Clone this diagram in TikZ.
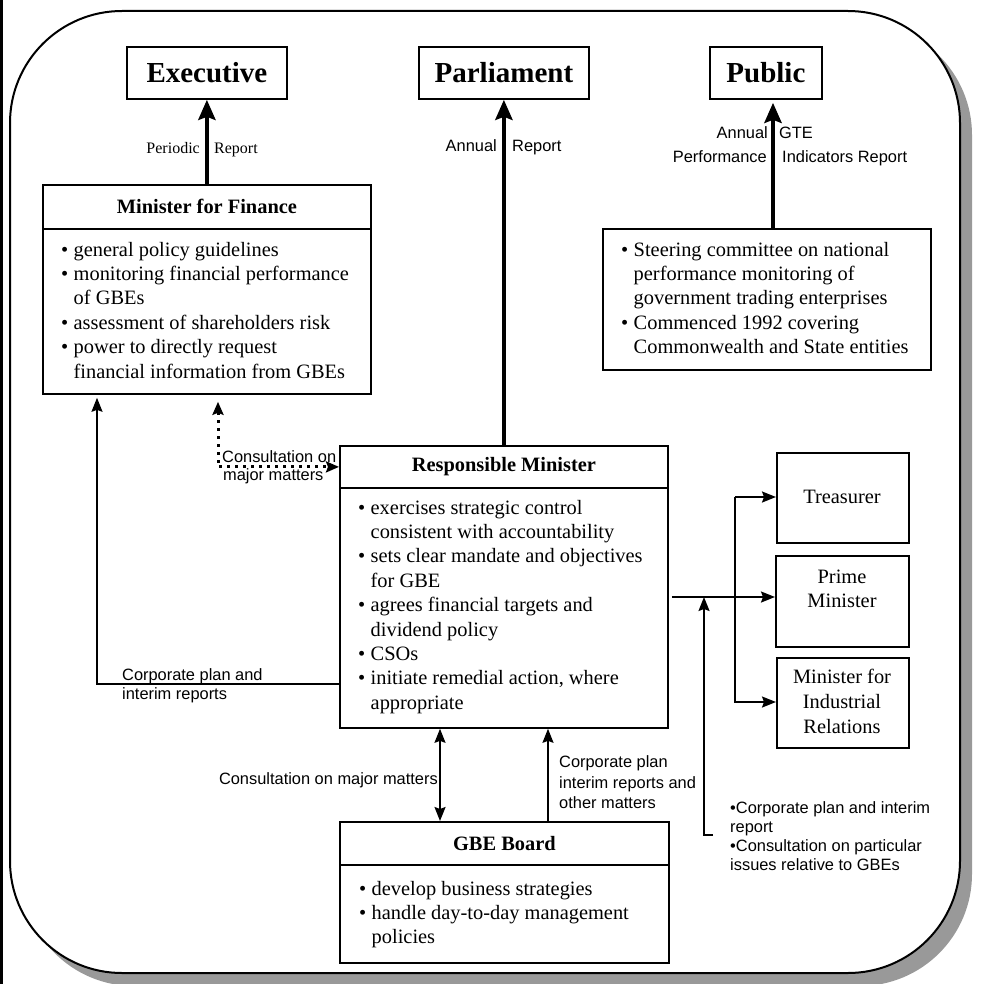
\documentclass[tikz,border=0pt]{standalone}
\usepackage{fontspec}
\setmainfont{Liberation Serif}
\newfontfamily\arialf{Liberation Sans}
\usetikzlibrary{arrows.meta}
\definecolor{shadowgray}{HTML}{999999}
\newcommand\bodyfont{\fontsize{20.4}{24.4}\selectfont}
\newcommand\lblfont{\arialf\fontsize{16.4}{19.7}\selectfont}
\newcommand\serlbl{\fontsize{16}{19}\selectfont}
\newcommand\titlefont{\fontsize{29}{34}\selectfont\bfseries}
\newcommand\headfont{\fontsize{20.4}{24.4}\selectfont\bfseries}
\newcommand\bitem{\par\hangindent=12.5pt\hangafter=1\noindent\makebox[12.5pt][l]{\textbullet}}
\begin{document}
\begin{tikzpicture}[x=1pt,y=1pt,
 box/.style={draw, line width=1.8pt, inner sep=0pt, anchor=north west},
 thickarr/.style={line width=4.5pt, -{Stealth[length=20pt,width=17pt,inset=3pt]}},
 thinarr/.style={line width=1.8pt, -{Stealth[length=14pt,width=11pt,inset=2pt]}},
 dblarr/.style={line width=1.8pt, {Stealth[length=14pt,width=11pt,inset=2pt]}-{Stealth[length=14pt,width=11pt,inset=2pt]}},
 dotarr/.style={line width=3pt, dash pattern=on 3pt off 5pt, {Stealth[length=13pt,width=11pt,inset=2pt]}-{Stealth[length=13pt,width=11pt,inset=2pt]}},
 lbl/.style={inner sep=0pt, font=\lblfont},
 slbl/.style={inner sep=0pt, font=\serlbl},
 body/.style={inner sep=0pt, anchor=base west},
 btext/.style={inner sep=0pt, anchor=base, font=\bodyfont}
]
\useasboundingbox (0,0) rectangle (987,-984);
% frame with shadow
\fill[shadowgray, rounded corners=112pt] (22,-23) rectangle (972,-986);
\draw[line width=2pt, fill=white, rounded corners=112pt] (10,-11) rectangle (960,-973);
\fill[black] (0,0) rectangle (2.7,-984);

% top boxes
\node[box, minimum width=160, minimum height=52] (exec) at (126,-46) {\titlefont Executive};
\node[box, minimum width=170, minimum height=52] (parl) at (418,-46) {\titlefont Parliament};
\node[box, minimum width=112, minimum height=52] (pub) at (709,-46) {\titlefont Public};

% Minister for Finance
\node[box, minimum width=328, minimum height=44] (mff) at (42,-184) {\headfont Minister for Finance};
\node[box, minimum width=328, minimum height=165] (mffbody) at (42,-228) {};
\node[body] (mfftext) at (61,-256) {\parbox[t]{310pt}{\bodyfont\raggedright
\bitem general policy guidelines
\bitem monitoring financial performance\newline of GBEs
\bitem assessment of shareholders risk
\bitem power to directly request\newline financial information from GBEs\par}};

% Steering committee
\node[box, minimum width=328, minimum height=141] (comm) at (602,-228) {};
\node[body] (commtext) at (621,-256) {\parbox[t]{310pt}{\bodyfont\raggedright
\bitem Steering committee on national\newline performance monitoring of\newline government trading enterprises
\bitem Commenced 1992 covering\newline Commonwealth and State entities\par}};

% Responsible Minister
\node[box, minimum width=328, minimum height=42] (resp) at (339,-445) {\headfont Responsible Minister};
\node[box, minimum width=328, minimum height=240] (respbody) at (339,-487) {};
\node[body] (resptext) at (358,-514) {\parbox[t]{310pt}{\bodyfont\raggedright
\bitem exercises strategic control\newline consistent with accountability
\bitem sets clear mandate and objectives\newline for GBE
\bitem agrees financial targets and\newline dividend policy
\bitem CSOs
\bitem initiate remedial action, where\newline appropriate\par}};

% right boxes
\node[box, minimum width=132, minimum height=90] (treas) at (776,-452) {};
\node[btext] (treasT) at (842,-503) {Treasurer};
\node[box, minimum width=133, minimum height=91] (pm) at (775,-555) {};
\node[btext] (pmT1) at (842,-583) {Prime};
\node[btext] (pmT2) at (842,-607) {Minister};
\node[box, minimum width=132, minimum height=90] (mir) at (776,-657) {};
\node[btext] (mirT1) at (842,-683) {Minister for};
\node[btext] (mirT2) at (842,-708) {Industrial};
\node[btext] (mirT3) at (842,-733) {Relations};

% GBE Board
\node[box, minimum width=329, minimum height=43] (gbe) at (339,-821) {\headfont GBE Board};
\node[box, minimum width=329, minimum height=98] (gbebody) at (339,-864) {};
\node[body] (gbetext) at (359,-895) {\parbox[t]{310pt}{\bodyfont\raggedright
\bitem develop business strategies
\bitem handle day-to-day management\newline policies\par}};

% coordinates
\coordinate (pa) at (773,0);
\coordinate (dc) at (218,0);
\coordinate (lc) at (97,-684);
\coordinate (rc) at (0,-597);
\coordinate (b1) at (735,-497);
\coordinate (b2) at (735,-702);
\coordinate (c1) at (713,-835);
\coordinate (c2) at (704,-835);
\coordinate (g1) at (440,0);
\coordinate (g2) at (548,0);

% thick report arrows
\draw[thickarr] (mff.north) -- (exec.south);
\draw[thickarr] (resp.north) -- (parl.south);
\draw[thickarr] (comm.north -| pa) -- ([yshift=-3pt]pub.south -| pa);

% consultation dotted
\draw[dotarr] ([yshift=-7pt]mffbody.south -| dc) -- (dc |- resp.west) -- (resp.west);

% corporate plan to MfF
\draw[thinarr] (respbody.west |- lc) -- (lc) -- ([yshift=-3pt]mffbody.south -| lc);

% to right ministers
\draw[thinarr] ([xshift=3pt]respbody.east |- rc) -- (pm.west |- rc);
\draw[thinarr] (b1) -- (treas.west |- b1);
\draw[thinarr] (b1) -- (b2) -- (mir.west |- b2);
\draw[thinarr] (c1) -- (c2) -- (c2 |- rc);

% GBE arrows
\draw[dblarr] (respbody.south -| g1) -- (gbe.north -| g1);
\draw[thinarr] (gbe.north -| g2) -- (respbody.south -| g2);

% labels
\node[slbl, anchor=base east] (perL) at (200,-154) {Periodic};
\node[slbl, anchor=base west] (perR) at (214,-154) {Report};
\node[lbl, anchor=base east] (parL) at (497,-152) {Annual};
\node[lbl, anchor=base west] (parR) at (512,-152) {Report};
\node[lbl, anchor=base east] (pubL1) at (768,-139) {Annual};
\node[lbl, anchor=base west] (pubR1) at (779,-139) {GTE};
\node[lbl, anchor=base east] (pubL2) at (767,-163) {Performance};
\node[lbl, anchor=base west] (pubR2) at (782,-163) {Indicators Report};
\node[lbl, anchor=base west] (con1) at (222,-462) {Consultation on};
\node[lbl, anchor=base west] (con2) at (223,-480) {major matters};
\node[lbl, anchor=base west] (cp1) at (122,-680) {Corporate plan and};
\node[lbl, anchor=base west] (cp2) at (122,-699) {interim reports};
\node[lbl, anchor=base east] (gcon) at (438,-784) {Consultation on major matters};
\node[lbl, anchor=base west] (gcp1) at (559,-767) {Corporate plan};
\node[lbl, anchor=base west] (gcp2) at (559,-788) {interim reports and};
\node[lbl, anchor=base west] (gcp3) at (559,-808) {other matters};
\node[lbl, anchor=base west] (br1) at (730,-813) {•Corporate plan and interim};
\node[lbl, anchor=base west] (br2) at (730,-832) {report};
\node[lbl, anchor=base west] (br3) at (730,-851) {•Consultation on particular};
\node[lbl, anchor=base west] (br4) at (730,-870) {issues relative to GBEs};
\end{tikzpicture}
\end{document}
